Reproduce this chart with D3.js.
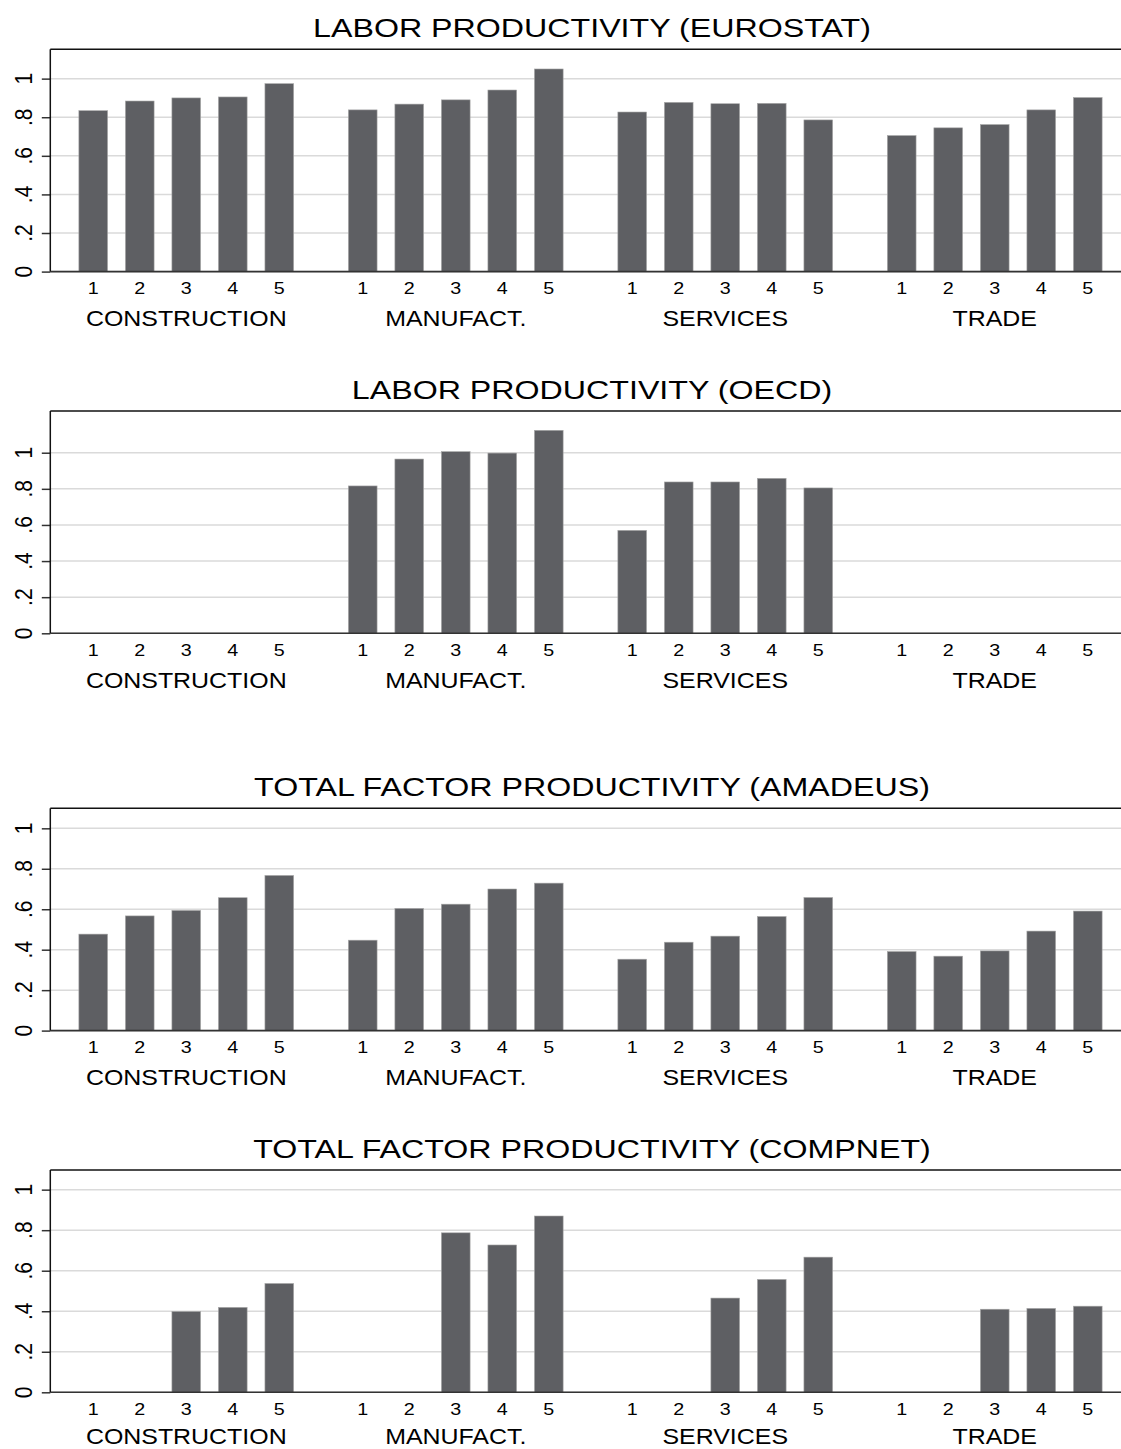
<!DOCTYPE html>
<html>
<head>
<meta charset="utf-8">
<script src="https://cdn.jsdelivr.net/npm/d3@7"></script>
<style>
  body { margin: 0; background: #fff; }
  text { font-family: "Liberation Sans", Arial, sans-serif; fill: #000; }
</style>
</head>
<body>
<div id="chart"></div>
<script>
// categories
var sectors = ["CONSTRUCTION", "MANUFACT.", "SERVICES", "TRADE"];
var quintiles = [1, 2, 3, 4, 5];

// y ticks
var yTicks = [0, 0.2, 0.4, 0.6, 0.8, 1];
var yTickLabels = ["0", ".2", ".4", ".6", ".8", "1"];

// panel titles
var titles = [
  "LABOR PRODUCTIVITY (EUROSTAT)",
  "LABOR PRODUCTIVITY (OECD)",
  "TOTAL FACTOR PRODUCTIVITY (AMADEUS)",
  "TOTAL FACTOR PRODUCTIVITY (COMPNET)"
];

// values per sector, quintiles 1..5 (null = missing)
var eurostat = [
  [0.834, 0.884, 0.900, 0.905, 0.974],
  [0.838, 0.868, 0.890, 0.941, 1.050],
  [0.827, 0.877, 0.870, 0.872, 0.786],
  [0.705, 0.745, 0.762, 0.838, 0.902]
];
var oecd = [
  [null, null, null, null, null],
  [0.816, 0.965, 1.006, 0.998, 1.124],
  [0.570, 0.838, 0.838, 0.858, 0.805],
  [null, null, null, null, null]
];
var amadeus = [
  [0.477, 0.567, 0.594, 0.657, 0.767],
  [0.447, 0.604, 0.625, 0.700, 0.729],
  [0.353, 0.437, 0.467, 0.564, 0.658],
  [0.391, 0.368, 0.394, 0.492, 0.591]
];
var compnet = [
  [null, null, 0.399, 0.419, 0.537],
  [null, null, 0.787, 0.727, 0.870],
  [null, null, 0.465, 0.557, 0.667],
  [null, null, 0.410, 0.414, 0.425]
];

// upper end of each panel's y axis
var yMax = [1.152, 1.231, 1.099, 1.097];

var W = 1121, H = 1449;
var svg = d3.select("#chart").append("svg")
  .attr("width", W)
  .attr("height", H);
svg.append("rect").attr("width", W).attr("height", H).attr("fill", "#fff");

var plotLeft = 50.3, plotRight = 1130.7, plotH = 222.3;
var panelTops = [49.3, 411, 808.3, 1170];
var panels = [eurostat, oecd, amadeus, compnet];

var xGroup = d3.scaleBand()
  .domain(sectors)
  .range([plotLeft, plotRight])
  .paddingInner(0.137)
  .paddingOuter(0.073);

var xBar = d3.scaleBand()
  .domain(quintiles)
  .range([0, xGroup.bandwidth()])
  .paddingInner(0.383)
  .paddingOuter(0.1915);

// text in the reference is drawn a little wide
function wideText(g, x, y, str, size, sx) {
  return g.append("text")
    .attr("transform", "translate(" + x + "," + y + ") scale(" + sx + ",1)")
    .attr("text-anchor", "middle")
    .attr("font-size", size + "px")
    .text(str);
}

panels.forEach(function(vals, p) {
  var top = panelTops[p];
  var bottom = top + plotH;
  var g = svg.append("g");

  var y = d3.scaleLinear()
    .domain([0, yMax[p]])
    .range([bottom, top]);

  // gridlines
  g.append("g")
    .selectAll("line")
    .data(yTicks)
    .enter().append("line")
      .attr("x1", plotLeft)
      .attr("x2", W)
      .attr("y1", function(d) { return y(d); })
      .attr("y2", function(d) { return y(d); })
      .attr("stroke", "#dadada")
      .attr("stroke-width", 1.5);

  // bars
  var rows = [];
  vals.forEach(function(row, s) {
    row.forEach(function(v, q) {
      if (v !== null) rows.push({sector: sectors[s], q: quintiles[q], v: v});
    });
  });
  g.selectAll("rect.bar")
    .data(rows)
    .enter().append("rect")
      .attr("class", "bar")
      .attr("x", function(d) { return xGroup(d.sector) + xBar(d.q); })
      .attr("width", xBar.bandwidth())
      .attr("y", function(d) { return y(d.v); })
      .attr("height", function(d) { return bottom - y(d.v); })
      .attr("fill", "#5e5f63")
      .attr("stroke", "#a8a8a8")
      .attr("stroke-width", 0.6);

  // top border
  g.append("line")
    .attr("x1", plotLeft).attr("x2", W)
    .attr("y1", top).attr("y2", top)
    .attr("stroke", "#111").attr("stroke-width", 1.4);

  // x axis line
  g.append("line")
    .attr("x1", plotLeft).attr("x2", W)
    .attr("y1", bottom).attr("y2", bottom)
    .attr("stroke", "#333").attr("stroke-width", 1.6);

  // y axis
  var yAxis = d3.axisLeft(y)
    .tickValues(yTicks)
    .tickSize(8.5)
    .tickFormat("");
  var ya = g.append("g")
    .attr("transform", "translate(" + plotLeft + ",0)")
    .call(yAxis);
  ya.select(".domain").remove();
  ya.selectAll(".tick line").attr("stroke", "#333").attr("stroke-width", 1.5);
  g.append("line")
    .attr("x1", plotLeft).attr("x2", plotLeft)
    .attr("y1", top).attr("y2", bottom)
    .attr("stroke", "#111").attr("stroke-width", 1.5);

  yTicks.forEach(function(t, i) {
    g.append("text")
      .attr("transform", "translate(31.5," + y(t) + ") scale(1.16,1) rotate(-90)")
      .attr("text-anchor", "middle")
      .attr("font-size", "21px")
      .text(yTickLabels[i]);
  });

  // x tick labels and group labels (last row kept inside the page)
  var groupLabelY = Math.min(bottom + 54.8, H - 5.3);
  sectors.forEach(function(s) {
    quintiles.forEach(function(q) {
      wideText(g, xGroup(s) + xBar(q) + xBar.bandwidth() / 2, bottom + 22.3, q, 17, 1.16);
    });
    wideText(g, xGroup(s) + xGroup.bandwidth() / 2, groupLabelY, s, 21.5, 1.16);
  });

  // title
  wideText(g, 592, top - 12, titles[p], 26.5, 1.215);
});
</script>
</body>
</html>
